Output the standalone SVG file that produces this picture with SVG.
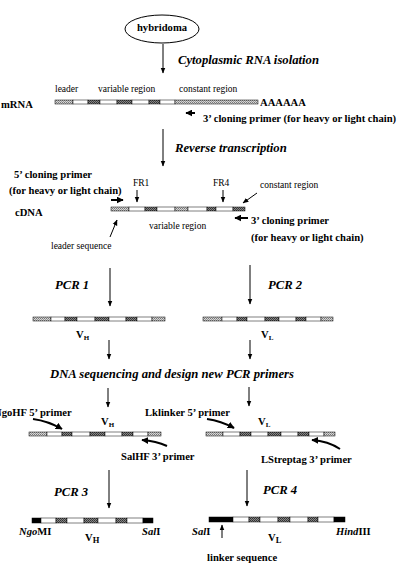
<svg xmlns="http://www.w3.org/2000/svg" width="400" height="566" viewBox="0 0 400 566">
<defs>
<pattern id="pl" width="2" height="2" patternUnits="userSpaceOnUse"><rect width="2" height="2" fill="#d8d8d8"/><rect width="1" height="1" fill="#777"/><rect x="1" y="1" width="1" height="1" fill="#999"/></pattern>
<pattern id="pd" width="2" height="2" patternUnits="userSpaceOnUse"><rect width="2" height="2" fill="#888"/><rect width="1" height="1" fill="#333"/><rect x="1" y="1" width="1" height="1" fill="#444"/></pattern>
<marker id="ah" viewBox="0 0 10 10" refX="9" refY="5" markerWidth="6" markerHeight="6" markerUnits="userSpaceOnUse" orient="auto"><path d="M0,1 L10,5 L0,9 z" fill="#000"/></marker>
<marker id="ahb" viewBox="0 0 10 10" refX="9" refY="5" markerWidth="7" markerHeight="7" markerUnits="userSpaceOnUse" orient="auto"><path d="M0,0 L10,5 L0,10 z" fill="#000"/></marker>
</defs>
<style>
text{font-family:"Liberation Serif","Times New Roman",serif;fill:#000}
.b{font-weight:bold;font-size:10.6px}
.bi{font-weight:bold;font-style:italic;font-size:12.7px}
.s{font-size:9.5px}
.w{fill:#fff;stroke:#000;stroke-width:0.5}
.h{fill:url(#pl);stroke:#000;stroke-width:0.5}
.d{fill:url(#pd);stroke:#000;stroke-width:0.5}
.k{fill:#000;stroke:#000;stroke-width:0.5}
.ar{stroke:#000;stroke-width:1;fill:none;marker-end:url(#ah)}
.arb{stroke:#000;stroke-width:2;fill:none;marker-end:url(#ahb)}
</style>

<g id="hybridoma">
<ellipse cx="162" cy="29" rx="37" ry="14" fill="#fff" stroke="#000" stroke-width="1"/>
<text class="b" x="162" y="29" text-anchor="middle" dominant-baseline="middle">hybridoma</text>
</g>

<g id="step-labels">
<text class="bi" x="178" y="64">Cytoplasmic RNA isolation</text>
<text class="bi" x="175" y="152">Reverse transcription</text>
<text class="bi" x="55" y="289">PCR 1</text>
<text class="bi" x="268" y="289">PCR 2</text>
<text class="bi" x="50" y="378">DNA sequencing and design new PCR primers</text>
<text class="bi" x="54" y="496">PCR 3</text>
<text class="bi" x="263" y="494">PCR 4</text>
</g>

<g id="mrna">
<text class="b" x="1" y="108">mRNA</text>
<text class="s" x="55" y="92">leader</text>
<text class="s" x="98" y="92">variable region</text>
<text class="s" x="179" y="92">constant region</text>
<rect class="h" x="55" y="100" width="18" height="4"/>
<rect class="w" x="73" y="100" width="15" height="4"/>
<rect class="d" x="88" y="100" width="12" height="4"/>
<rect class="w" x="100" y="100" width="17" height="4"/>
<rect class="d" x="117" y="100" width="15" height="4"/>
<rect class="w" x="132" y="100" width="17" height="4"/>
<rect class="d" x="149" y="100" width="11" height="4"/>
<rect class="w" x="160" y="100" width="15" height="4"/>
<rect class="h" x="175" y="100" width="83" height="4"/>
<text class="b" x="260" y="106">AAAAAA</text>
<text class="b" x="203" y="122">3’ cloning primer (for heavy or light chain)</text>
</g>

<g id="cdna">
<text class="b" x="15" y="216">cDNA</text>
<text class="b" x="14" y="178">5’ cloning primer</text>
<text class="b" x="9" y="194">(for heavy or light chain)</text>
<text class="s" x="133" y="186">FR1</text>
<text class="s" x="213" y="186">FR4</text>
<text class="s" x="260" y="188">constant region</text>
<rect class="h" x="111" y="207" width="18" height="4"/>
<rect class="w" x="129" y="207" width="16" height="4"/>
<rect class="d" x="145" y="207" width="12" height="4"/>
<rect class="w" x="157" y="207" width="18" height="4"/>
<rect class="h" x="175" y="207" width="13" height="4"/>
<rect class="w" x="188" y="207" width="19" height="4"/>
<rect class="d" x="207" y="207" width="9" height="4"/>
<rect class="w" x="216" y="207" width="17" height="4"/>
<rect class="d" x="233" y="207" width="12" height="4"/>
<text class="s" x="149" y="229">variable region</text>
<text class="s" x="51" y="249">leader sequence</text>
<text class="b" x="251" y="224">3’ cloning primer</text>
<text class="b" x="251" y="241">(for heavy or light chain)</text>
</g>

<g id="vh1">
<rect class="h" x="33" y="317" width="18" height="4"/>
<rect class="w" x="51" y="317" width="14" height="4"/>
<rect class="d" x="65" y="317" width="12" height="4"/>
<rect class="w" x="77" y="317" width="18" height="4"/>
<rect class="d" x="95" y="317" width="14" height="4"/>
<rect class="w" x="109" y="317" width="17" height="4"/>
<rect class="d" x="126" y="317" width="11" height="4"/>
<rect class="w" x="137" y="317" width="15" height="4"/>
<rect class="h" x="152" y="317" width="13" height="4"/>
<text class="b" x="76" y="338" font-size="11.5">V<tspan font-size="7" dy="2">H</tspan></text>
</g>

<g id="vl1">
<rect class="h" x="203" y="317" width="19" height="4"/>
<rect class="w" x="222" y="317" width="15" height="4"/>
<rect class="d" x="237" y="317" width="10" height="4"/>
<rect class="w" x="247" y="317" width="18" height="4"/>
<rect class="d" x="265" y="317" width="14" height="4"/>
<rect class="w" x="279" y="317" width="17" height="4"/>
<rect class="d" x="296" y="317" width="10" height="4"/>
<rect class="w" x="306" y="317" width="15" height="4"/>
<rect class="h" x="321" y="317" width="12" height="4"/>
<text class="b" x="261" y="338" font-size="11.5">V<tspan font-size="7" dy="2">L</tspan></text>
</g>

<g id="vh2">
<text class="b" x="-6" y="416">NgoHF 5’ primer</text>
<text class="b" x="101" y="425" font-size="11.5">V<tspan font-size="7" dy="2">H</tspan></text>
<rect class="h" x="29" y="432" width="18" height="4"/>
<rect class="w" x="47" y="432" width="15" height="4"/>
<rect class="d" x="62" y="432" width="10" height="4"/>
<rect class="w" x="72" y="432" width="18" height="4"/>
<rect class="d" x="90" y="432" width="15" height="4"/>
<rect class="w" x="105" y="432" width="17" height="4"/>
<rect class="d" x="122" y="432" width="11" height="4"/>
<rect class="w" x="133" y="432" width="15" height="4"/>
<rect class="h" x="148" y="432" width="13" height="4"/>
<text class="b" x="121" y="460">SalHF 3’ primer</text>
</g>

<g id="vl2">
<text class="b" x="145" y="416">Lklinker 5’ primer</text>
<text class="b" x="258" y="425" font-size="11.5">V<tspan font-size="7" dy="2">L</tspan></text>
<rect class="h" x="206" y="432" width="17" height="4"/>
<rect class="w" x="223" y="432" width="17" height="4"/>
<rect class="d" x="240" y="432" width="11" height="4"/>
<rect class="w" x="251" y="432" width="17" height="4"/>
<rect class="d" x="268" y="432" width="13" height="4"/>
<rect class="w" x="281" y="432" width="17" height="4"/>
<rect class="d" x="298" y="432" width="11" height="4"/>
<rect class="w" x="309" y="432" width="15" height="4"/>
<rect class="h" x="324" y="432" width="11" height="4"/>
<text class="b" x="261" y="463">LStreptag 3’ primer</text>
</g>

<g id="vh3">
<rect class="k" x="32" y="518" width="9" height="5"/>
<rect class="w" x="41" y="518" width="15" height="5"/>
<rect class="d" x="56" y="518" width="11" height="5"/>
<rect class="w" x="67" y="518" width="17" height="5"/>
<rect class="d" x="84" y="518" width="14" height="5"/>
<rect class="w" x="98" y="518" width="18" height="5"/>
<rect class="d" x="116" y="518" width="11" height="5"/>
<rect class="w" x="127" y="518" width="16" height="5"/>
<rect class="k" x="143" y="518" width="10" height="5"/>
<text class="b" x="19" y="535" font-weight="normal"><tspan font-style="italic">Ngo</tspan>MI</text>
<text class="b" x="85" y="541" font-size="13.5">V<tspan font-size="8.5" dy="2">H</tspan></text>
<text class="b" x="142" y="535" font-weight="normal"><tspan font-style="italic">Sal</tspan>I</text>
</g>

<g id="vl3">
<rect class="k" x="209" y="517" width="24" height="5"/>
<rect class="w" x="233" y="517" width="16" height="5"/>
<rect class="d" x="249" y="517" width="11" height="5"/>
<rect class="w" x="260" y="517" width="18" height="5"/>
<rect class="d" x="278" y="517" width="12" height="5"/>
<rect class="w" x="290" y="517" width="18" height="5"/>
<rect class="d" x="308" y="517" width="10" height="5"/>
<rect class="w" x="318" y="517" width="16" height="5"/>
<rect class="k" x="334" y="517" width="11" height="5"/>
<text class="b" x="192" y="535" font-weight="normal"><tspan font-style="italic">Sal</tspan>I</text>
<text class="b" x="268" y="541" font-size="13.5">V<tspan font-size="8.5" dy="2">L</tspan></text>
<text class="b" x="336" y="535" font-weight="normal"><tspan font-style="italic">Hind</tspan>III</text>
<text class="b" x="207" y="561">linker sequence</text>
</g>

<g id="connectors">
<line class="ar" x1="163" y1="44" x2="163" y2="73"/>
<line class="ar" x1="163" y1="129" x2="163" y2="166"/>
<line class="ar" x1="110" y1="268" x2="110" y2="306"/>
<line class="ar" x1="250" y1="265" x2="250" y2="304"/>
<line class="ar" x1="109" y1="340" x2="109" y2="359"/>
<line class="ar" x1="250" y1="340" x2="250" y2="359"/>
<line class="ar" x1="108" y1="388" x2="108" y2="407"/>
<line class="ar" x1="249" y1="387" x2="249" y2="406"/>
<line class="ar" x1="109" y1="470" x2="109" y2="508"/>
<line class="ar" x1="247" y1="470" x2="247" y2="506"/>
<line class="ar" x1="137" y1="190" x2="137" y2="202"/>
<line class="ar" x1="223" y1="190" x2="223" y2="202"/>
<line class="ar" x1="257" y1="193" x2="243" y2="203"/>
<line class="ar" x1="110" y1="237" x2="117" y2="220"/>
<line class="ar" x1="222" y1="538" x2="222" y2="525"/>
<line class="arb" x1="195" y1="113" x2="186" y2="113"/>
<line class="arb" x1="111" y1="200" x2="123" y2="200"/>
<line class="arb" x1="248" y1="218" x2="235" y2="218"/>
<path class="arb" d="M33,419 Q48,421 62,429"/>
<path class="arb" d="M167,446 Q156,441 142,440"/>
<path class="arb" d="M207,419 Q221,421 234,428"/>
<path class="arb" d="M340,449 Q328,441 312,440"/>
</g>
</svg>
